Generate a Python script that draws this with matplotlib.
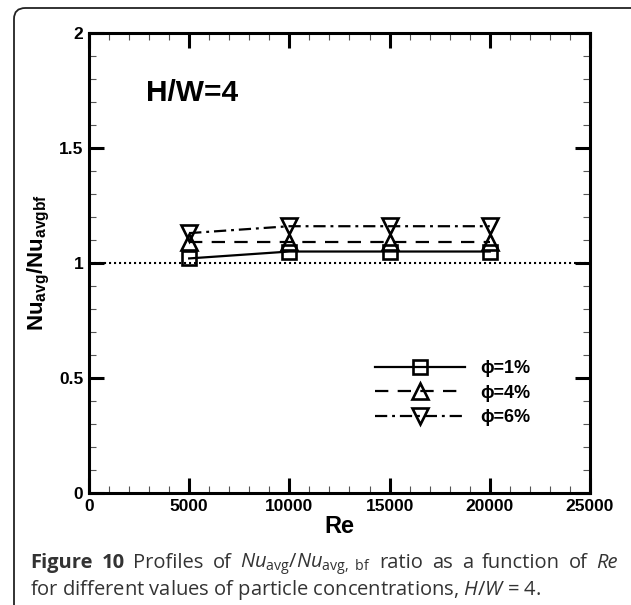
import matplotlib.pyplot as plt
from matplotlib.patches import FancyBboxPatch
from matplotlib.ticker import MultipleLocator

plt.rcParams['font.family'] = ['Liberation Sans', 'DejaVu Sans']
plt.rcParams['mathtext.fontset'] = 'custom'
plt.rcParams['mathtext.rm'] = 'Open Sans'
plt.rcParams['mathtext.it'] = 'Open Sans:italic'
plt.rcParams['mathtext.bf'] = 'Open Sans:bold'
plt.rcParams['mathtext.sf'] = 'Liberation Sans:bold'

re = [5000, 10000, 15000, 20000]
nu_1 = [1.02, 1.05, 1.05, 1.05]
nu_4 = [1.09, 1.09, 1.09, 1.09]
nu_6 = [1.13, 1.16, 1.16, 1.16]
labels = ["ϕ=1%", "ϕ=4%", "ϕ=6%"]

fig = plt.figure(figsize=(6.31, 6.05), dpi=100)
ax = fig.add_axes([0.141, 0.185, 0.794, 0.7605])

# rounded frame around the figure panel
frame = FancyBboxPatch((14 / 631, -0.05), 1.0, 1.0 - 8 / 605 + 0.05,
                       boxstyle="round,pad=0,rounding_size=0.018",
                       transform=fig.transFigure, fill=False,
                       edgecolor="#222222", linewidth=1.3, clip_on=False)
fig.patches.append(frame)

ax.axhline(1.0, color="black", linestyle=(0, (1, 1.4)), linewidth=1.5)

base = dict(markerfacecolor="none", markeredgecolor="black",
            markeredgewidth=1.9, color="black", linewidth=1.6)
ax.plot(re, nu_1, marker="s", markersize=9.5, linestyle="-",
        label=labels[0], **base)
ax.plot(re, nu_4, marker="^", markersize=12, linestyle=(0, (6, 4.2)),
        label=labels[1], **base)
ax.plot(re, nu_6, marker="v", markersize=12, linestyle=(0, (5.5, 2.2, 1.3, 2.2)),
        label=labels[2], **base)

ax.set_xlim(0, 25000)
ax.set_ylim(0, 2)
ax.xaxis.set_major_locator(MultipleLocator(5000))
ax.xaxis.set_minor_locator(MultipleLocator(1000))
ax.yaxis.set_minor_locator(MultipleLocator(0.1))
ax.set_yticks([0, 0.5, 1, 1.5, 2])
ax.set_yticklabels(["0", "0.5", "1", "1.5", "2"])
ax.tick_params(which="both", direction="in", top=True, right=True)
ax.tick_params(which="major", length=11, width=2.2, labelsize=12.5, pad=4)
ax.tick_params(which="minor", length=5, width=0.8, color="#555555")
for lab in ax.get_xticklabels() + ax.get_yticklabels():
    lab.set_fontweight("bold")
for sp in ax.spines.values():
    sp.set_linewidth(2.2)

ax.set_xlabel("Re", fontsize=17, fontweight="bold", labelpad=1)
ax.set_ylabel(r"$\mathsf{Nu_{avg}/Nu_{avgbf}}$", fontsize=16, labelpad=5)

ax.text(2850, 1.74, "H/W=4", fontsize=21.5, fontweight="bold", va="center")

leg = ax.legend(loc="upper left", bbox_to_anchor=(0.553, 0.308), frameon=False,
                fontsize=13, handlelength=5.0, handletextpad=0.85,
                labelspacing=0.4, borderpad=0)
for t in leg.get_texts():
    t.set_fontweight("bold")

# caption: first line is justified between the margins, second line left aligned
cap = dict(fontsize=14.5, family="Open Sans", color="#333333", va="baseline")
words = [("Figure", dict(fontweight="bold")), ("10", dict(fontweight="bold")),
         ("Profiles", {}), ("of", {}),
         (r"$\mathit{Nu}_{\mathrm{avg}}/\mathit{Nu}_{\mathrm{avg,\ bf}}$", {}),
         ("ratio", {}), ("as", {}), ("a", {}), ("function", {}), ("of", {}),
         ("Re", dict(fontstyle="italic"))]
x0, x1, y1 = 30, 618, 1 - 568 / 605
renderer = fig.canvas.get_renderer()
texts = [fig.text(0, y1, w, **cap, **kw) for w, kw in words]
widths = [t.get_window_extent(renderer).width for t in texts]
gap = (x1 - x0 - sum(widths)) / (len(texts) - 1)
x = x0
for t, w in zip(texts, widths):
    t.set_x(x / 631)
    x += w + gap

fig.text(30 / 631, 1 - 595 / 605,
         r"for different values of particle concentrations, $\mathit{H/W}$ = 4.",
         **cap)

fig.savefig("out.png", dpi=100)
